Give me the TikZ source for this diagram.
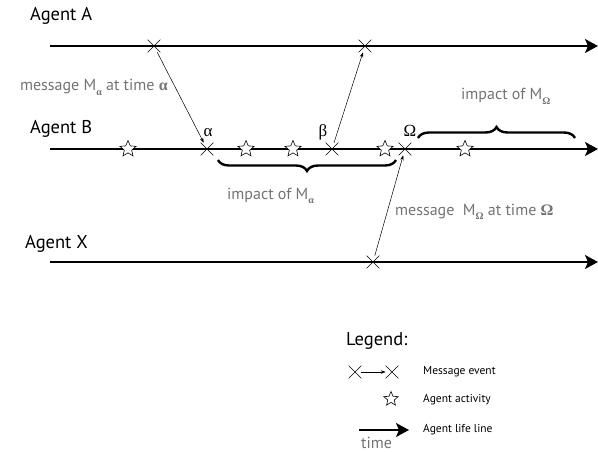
\documentclass[tikz,border=0pt]{standalone}
\usepackage{fontspec}
\setmainfont{PT Sans}
\newfontfamily\grk{Liberation Serif}
\newcommand{\gsub}[1]{\raisebox{-4.5pt}{\fontsize{10}{10}\selectfont\grk\bfseries #1}}
\usetikzlibrary{arrows.meta,shapes.geometric,shapes.misc,decorations.pathreplacing}
\begin{document}
\begin{tikzpicture}[x=1pt,y=-1pt,
  life/.style={line width=1.4pt,-{Stealth[length=13pt,width=14pt,inset=3pt]}},
  msg/.style={line width=0.5pt,-{Stealth[length=5pt,width=3.5pt]}},
  evt/.style={cross out,draw,line width=0.6pt,minimum size=12pt,inner sep=0pt},
  act/.style={star,star points=5,star point ratio=2.2,draw,fill=white,line width=0.6pt,minimum size=17pt,inner sep=0pt},
  agent/.style={font=\fontsize{18.5}{20}\selectfont,anchor=base west,inner sep=0pt},
  lbl/.style={text=black!55,font=\fontsize{16}{18}\selectfont,inner sep=0pt},
  greek/.style={font=\fontsize{17}{19}\selectfont\grk,inner sep=0pt},
  brc/.style={decorate,decoration={brace,amplitude=11pt},line width=2.4pt},
  small/.style={font=\fontsize{11.5}{13}\selectfont,anchor=west,inner sep=0pt}]
\useasboundingbox (0,0) rectangle (598,452);
% agents
\node[agent] (la) at (30,21) {Agent A};
\node[agent] (lb) at (30,134) {Agent B};
\node[agent] (lx) at (25,248) {Agent X};
\coordinate (As) at (50,46); \coordinate (Ae) at (598,46);
\coordinate (Bs) at (50,149); \coordinate (Be) at (598,149);
\coordinate (Xs) at (50,262); \coordinate (Xe) at (598,262);
\draw[life] (As) -- (Ae);
\draw[life] (Bs) -- (Be);
\draw[life] (Xs) -- (Xe);
% activities
\foreach \x/\n in {128/s1,246/s2,293/s3,385/s4,465/s5}
  \node[act] (\n) at (\x,149) {};
% events
\node[evt] (a1) at (154,46) {};
\node[evt] (a2) at (365,46) {};
\node[evt] (ba) at (207,149) {};
\node[evt] (bb) at (332,149) {};
\node[evt] (bo) at (405,149) {};
\node[evt] (x1) at (373,262) {};
% messages
\draw[msg] (a1) -- (ba);
\draw[msg] (bb) -- (a2);
\draw[msg] (x1) -- (bo);
% event labels
\node[greek,anchor=base] (ga) at (208,137) {α};
\node[greek,anchor=base] (gb) at (323,137) {β};
\node[greek,anchor=base] (go) at (410,137) {Ω};
% message labels
\node[lbl,anchor=base east] (ma) at (168,91) {message M\gsub{α} at time {\grk\bfseries α}};
\node[lbl,anchor=base west] (mo) at (395,215) {message\ \ M\gsub{Ω} at time {\grk\bfseries Ω}};
% impacts
\coordinate (i1s) at (218,160); \coordinate (i1e) at (396,160);
\draw[brc,decoration={mirror}] (i1s) -- (i1e);
\node[lbl,anchor=base west] (ia) at (227,199) {impact of M\gsub{α}};
\coordinate (i2s) at (418,138); \coordinate (i2e) at (575,138);
\draw[brc] (i2s) -- (i2e);
\node[lbl,anchor=base west] (io) at (461,100) {impact of M\gsub{Ω}};
% legend
\node[agent] (lg) at (346,345) {Legend:};
\node[evt] (le1) at (355,372) {};
\node[evt] (le2) at (392,372) {};
\draw[msg] (le1) -- (le2);
\node[small] (t1) at (423,372) {Message event};
\node[act,minimum size=15pt] (ls) at (391,399) {};
\node[small] (t2) at (423,400) {Agent activity};
\coordinate (lls) at (359,430); \coordinate (lle) at (409,430);
\draw[life] (lls) -- (lle);
\node[small] (t3) at (423,430) {Agent life line};
\node[lbl,anchor=base west] (tm) at (361,448) {time};
\end{tikzpicture}
\end{document}
